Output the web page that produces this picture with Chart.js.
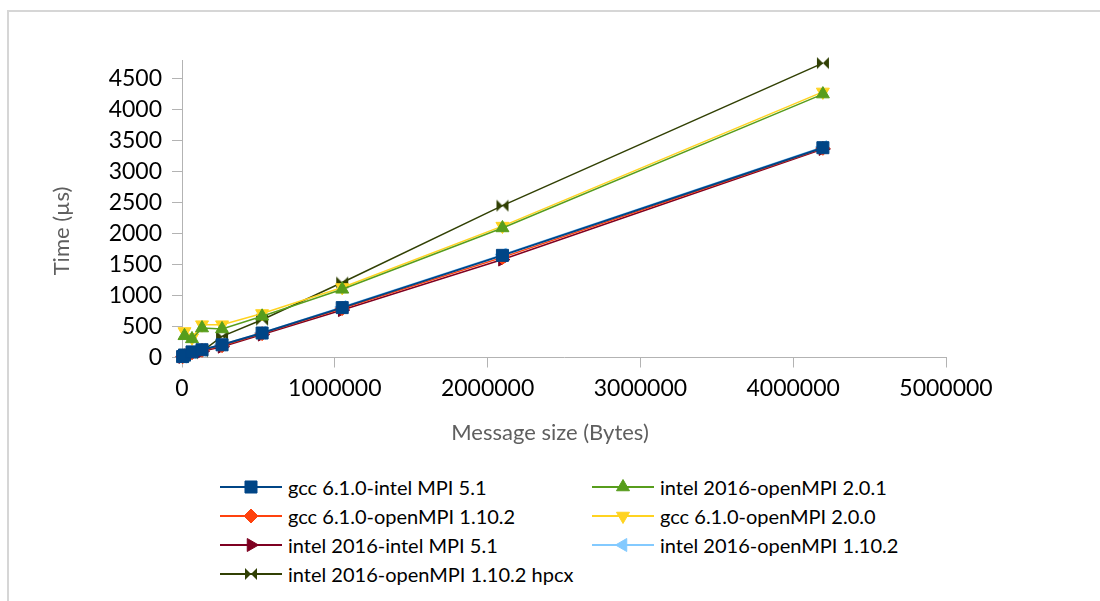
<!DOCTYPE html>
<html>
<head>
<meta charset="utf-8">
<script src="https://cdn.jsdelivr.net/npm/chart.js@4.4.0/dist/chart.umd.min.js"></script>
<style>
    body { margin: 0; background: #fff; font-family: Lato, sans-serif; }
    #frame { position: absolute; left: 7px; top: 10px; width: 1100px; height: 600px;
             border-left: 2px solid #d6d6d6; border-top: 2px solid #d6d6d6; }
    #wrap { position: absolute; left: 0; top: 0; width: 1100px; height: 470px; }
    .item { position: absolute; display: flex; align-items: center; height: 22px;
            font-size: 20px; color: #000; white-space: nowrap; }
    .item canvas { margin-right: 6px; }
</style>
</head>
<body>
<div id="frame"></div>
<div id="wrap"><canvas id="grafico"></canvas></div>
<div id="legend"></div>
<script>
// message sizes (bytes)
const sizes = [4096, 16384, 65536, 131072, 262144, 524288, 1048576, 2097152, 4194304];

// time in microseconds, per configuration
const gccIntelMpi51 = [15, 40, 90, 125, 205, 395, 805, 1648, 3385];
const intelOpenMpi201 = [null, 350, 300, 475, 460, 665, 1100, 2090, 4250];
const gccOpenMpi1102 = [12, 30, 75, 115, 190, 385, 790, 1615, 3375];
const gccOpenMpi200 = [null, 420, 320, 530, 530, 710, 1130, 2120, 4285];
const intelIntelMpi51 = [10, 25, 60, 100, 175, 370, 765, 1580, 3365];
const intelOpenMpi1102 = [14, 38, 85, 125, 210, 400, 815, 1660, 3395];
const intelOpenMpi1102Hpcx = [10, 30, 70, 100, 340, 610, 1210, 2450, 4750];

const seriesNames = [
    "gcc 6.1.0-intel MPI 5.1",
    "intel 2016-openMPI 2.0.1",
    "gcc 6.1.0-openMPI 1.10.2",
    "gcc 6.1.0-openMPI 2.0.0",
    "intel 2016-intel MPI 5.1",
    "intel 2016-openMPI 1.10.2",
    "intel 2016-openMPI 1.10.2 hpcx"
];
const seriesValues = [gccIntelMpi51, intelOpenMpi201, gccOpenMpi1102, gccOpenMpi200,
                      intelIntelMpi51, intelOpenMpi1102, intelOpenMpi1102Hpcx];

// axes
const xTitle = "Message size (Bytes)";
const yTitle = "Time (µs)";
const xTickValues = [0, 1000000, 2000000, 3000000, 4000000, 5000000];
const yTickValues = [0, 500, 1000, 1500, 2000, 2500, 3000, 3500, 4000, 4500];
const xMax = 5000000;
const yMax = 4800;

function bowtie(color) {
    const c = document.createElement('canvas');
    c.width = 14; c.height = 14;
    const g = c.getContext('2d');
    g.fillStyle = color;
    g.beginPath(); g.moveTo(1, 1); g.lineTo(7, 7); g.lineTo(1, 13); g.closePath(); g.fill();
    g.beginPath(); g.moveTo(13, 1); g.lineTo(7, 7); g.lineTo(13, 13); g.closePath(); g.fill();
    return c;
}

const estilos = [
    { cor: '#004586', ponto: 'rect', rot: 0, raio: 8.5, linha: 2 },
    { cor: '#579d1c', ponto: 'triangle', rot: 0, raio: 7.5, linha: 1.5 },
    { cor: '#ff420e', ponto: 'rectRot', rot: 0, raio: 7, linha: 1.5 },
    { cor: '#ffd320', ponto: 'triangle', rot: 180, raio: 7.5, linha: 1.5 },
    { cor: '#7e0021', ponto: 'triangle', rot: 90, raio: 7.5, linha: 1.5 },
    { cor: '#83caff', ponto: 'triangle', rot: -90, raio: 7.5, linha: 1.5 },
    { cor: '#314004', ponto: bowtie('#314004'), rot: 0, raio: 7, linha: 1.5 }
];

const datasets = seriesValues.map((valores, i) => ({
    label: seriesNames[i],
    data: sizes.map((x, j) => ({ x: x, y: valores[j] })),
    borderColor: estilos[i].cor,
    backgroundColor: estilos[i].cor,
    borderWidth: estilos[i].linha,
    pointStyle: estilos[i].ponto,
    pointRotation: estilos[i].rot,
    pointRadius: estilos[i].raio,
    pointBorderWidth: 1,
    tension: 0,
    clip: false
}));

const axisTitles = {
    id: 'axisTitles',
    afterDraw(chart) {
        const ctx = chart.ctx;
        ctx.save();
        ctx.fillStyle = '#5f5f5f';
        ctx.font = '22px Lato';
        ctx.textAlign = 'center';
        ctx.textBaseline = 'middle';
        ctx.fillText(xTitle, 550, 433);
        ctx.translate(62, 231);
        ctx.rotate(-Math.PI / 2);
        ctx.fillText(yTitle, 0, 0);
        ctx.restore();
    }
};

const tickFont = { family: 'Lato', size: 23 };

new Chart(document.getElementById('grafico'), {
    type: 'line',
    data: { datasets: datasets },
    options: {
        responsive: true,
        maintainAspectRatio: false,
        animation: false,
        layout: { padding: { top: 60, right: 154, left: 0, bottom: 0 } },
        plugins: { legend: { display: false }, tooltip: { enabled: false } },
        scales: {
            x: {
                type: 'linear', min: 0, max: xMax,
                border: { color: '#b3b3b3', width: 1 },
                grid: { drawOnChartArea: false, color: '#b3b3b3', tickLength: 10 },
                ticks: { color: '#000', font: tickFont, padding: 7,
                         autoSkip: false, maxRotation: 0, callback: v => String(v) },
                afterBuildTicks: s => { s.ticks = xTickValues.map(v => ({ value: v })); },
                afterFit: s => { s.height = 112.5; }
            },
            y: {
                min: 0, max: yMax,
                border: { color: '#b3b3b3', width: 1 },
                grid: { drawOnChartArea: false, color: '#b3b3b3', tickLength: 10 },
                ticks: { color: '#000', font: tickFont, padding: 10,
                         autoSkip: false, callback: v => String(v) },
                afterBuildTicks: s => { s.ticks = yTickValues.map(v => ({ value: v })); },
                afterFit: s => { s.width = 182; }
            }
        }
    },
    plugins: [axisTitles]
});

// legend: 2 columns, row by row
const legenda = document.getElementById('legend');
const colunasX = [220, 592];
const linhasY = [487, 516, 545, 574];

function desenharPonto(ctx, est, x, y) {
    ctx.fillStyle = est.cor;
    ctx.strokeStyle = est.cor;
    ctx.lineWidth = 1;
    Chart.helpers.drawPoint(ctx, { pointStyle: est.ponto, rotation: est.rot, radius: est.raio, borderWidth: 1 }, x, y);
}

seriesNames.forEach((nome, i) => {
    const est = estilos[i];
    const item = document.createElement('div');
    item.className = 'item';
    item.style.left = colunasX[i % 2] + 'px';
    item.style.top = (linhasY[Math.floor(i / 2)] - 11) + 'px';
    const c = document.createElement('canvas');
    c.width = 62; c.height = 22;
    const ctx = c.getContext('2d');
    ctx.strokeStyle = est.cor;
    ctx.lineWidth = 2;
    ctx.beginPath(); ctx.moveTo(0, 11); ctx.lineTo(62, 11); ctx.stroke();
    desenharPonto(ctx, est, 31, 11);
    item.appendChild(c);
    const span = document.createElement('span');
    span.textContent = nome;
    item.appendChild(span);
    legenda.appendChild(item);
});
</script>
</body>
</html>
